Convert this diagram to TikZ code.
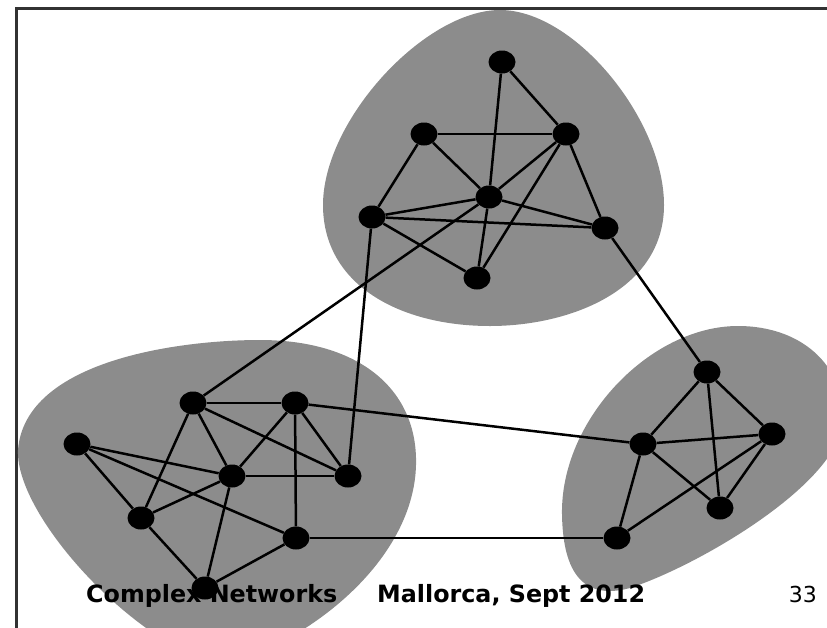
\documentclass[tikz,border=0pt]{standalone}
\usepackage{fontspec}
\setmainfont{DejaVu Sans}
\usetikzlibrary{shapes,positioning}
\definecolor{blobgray}{RGB}{140,140,140}
\definecolor{framegray}{RGB}{50,50,50}
\tikzset{
  vertex/.style={ellipse, fill=black, inner sep=0pt, minimum width=27pt, minimum height=23pt},
  link/.style={line width=2.5pt, black},
  footer/.style={inner sep=0pt, font=\fontsize{23.8}{28}\selectfont}
}

\begin{document}
\begin{tikzpicture}[x=1pt,y=-1pt]
\useasboundingbox (0,0) rectangle (827,627);
\clip (0,0) rectangle (827,627);

% Frame
\draw[framegray, line width=3pt] (16,630) -- (16,8) -- (830,8);

% Communities
\fill[blobgray] (500,10) .. controls (575,10) and (664,120) .. (664,205)
  .. controls (664,290) and (570,326) .. (490,326)
  .. controls (400,326) and (323,285) .. (323,205)
  .. controls (323,120) and (425,10) .. cycle;
\fill[blobgray] (18,450) .. controls (25,360) and (180,340) .. (260,340)
  .. controls (360,340) and (418,390) .. (416,465)
  .. controls (414,550) and (330,630) .. (230,665)
  .. controls (150,660) and (15,520) .. cycle;
\fill[blobgray] (562,515) .. controls (560,420) and (650,326) .. (738,326)
  .. controls (805,326) and (848,370) .. (842,425)
  .. controls (835,485) and (700,565) .. (630,588)
  .. controls (578,602) and (563,565) .. cycle;

% Top community
\node[vertex] (t1) at (502,62) {};
\node[vertex] (t2) at (424,134) {};
\node[vertex] (t3) at (566,134) {};
\node[vertex] (t4) at (489,197) {};
\node[vertex] (t5) at (372,217) {};
\node[vertex] (t6) at (605,228) {};
\node[vertex] (t7) at (477,278) {};

% Left community
\node[vertex] (l1) at (77,444) {};
\node[vertex] (l2) at (193,403) {};
\node[vertex] (l3) at (295,403) {};
\node[vertex] (l4) at (232,476) {};
\node[vertex] (l5) at (348,476) {};
\node[vertex] (l6) at (141,518) {};
\node[vertex] (l7) at (296,538) {};
\node[vertex] (l8) at (205,588) {};

% Right community
\node[vertex] (r1) at (707,372) {};
\node[vertex] (r2) at (643,444) {};
\node[vertex] (r3) at (772,434) {};
\node[vertex] (r4) at (720,508) {};
\node[vertex] (r5) at (617,538) {};

% Links inside top community
\draw[link] (t1) -- (t4);
\draw[link] (t1) -- (t3);
\draw[link] (t2) -- (t3);
\draw[link] (t2) -- (t5);
\draw[link] (t2) -- (t4);
\draw[link] (t3) -- (t4);
\draw[link] (t3) -- (t7);
\draw[link] (t3) -- (t6);
\draw[link] (t4) -- (t5);
\draw[link] (t4) -- (t6);
\draw[link] (t4) -- (t7);
\draw[link] (t5) -- (t6);
\draw[link] (t5) -- (t7);

% Links inside left community
\draw[link] (l2) -- (l3);
\draw[link] (l2) -- (l4);
\draw[link] (l2) -- (l5);
\draw[link] (l2) -- (l6);
\draw[link] (l3) -- (l4);
\draw[link] (l3) -- (l5);
\draw[link] (l3) -- (l7);
\draw[link] (l4) -- (l5);
\draw[link] (l1) -- (l4);
\draw[link] (l1) -- (l6);
\draw[link] (l1) -- (l7);
\draw[link] (l4) -- (l6);
\draw[link] (l4) -- (l8);
\draw[link] (l6) -- (l8);
\draw[link] (l7) -- (l8);

% Links inside right community
\draw[link] (r1) -- (r2);
\draw[link] (r1) -- (r3);
\draw[link] (r1) -- (r4);
\draw[link] (r2) -- (r3);
\draw[link] (r2) -- (r4);
\draw[link] (r2) -- (r5);
\draw[link] (r3) -- (r4);
\draw[link] (r3) -- (r5);

% Links between communities
\draw[link] (t4) -- (l2);
\draw[link] (t5) -- (l5);
\draw[link] (t6) -- (r1);
\draw[link] (l3) -- (r2);
\draw[link] (l7) -- (r5);

% Footer
\node[footer, anchor=base west, font=\fontsize{23.8}{28}\selectfont\bfseries] (title) at (86,602) {Complex Networks};
\node[footer, anchor=base west, font=\fontsize{23.8}{28}\selectfont\bfseries] (place) at (377,602) {Mallorca, Sept 2012};
\node[footer, anchor=base east, font=\fontsize{22}{26}\selectfont] (page) at (817,602) {33};
\end{tikzpicture}
\end{document}
